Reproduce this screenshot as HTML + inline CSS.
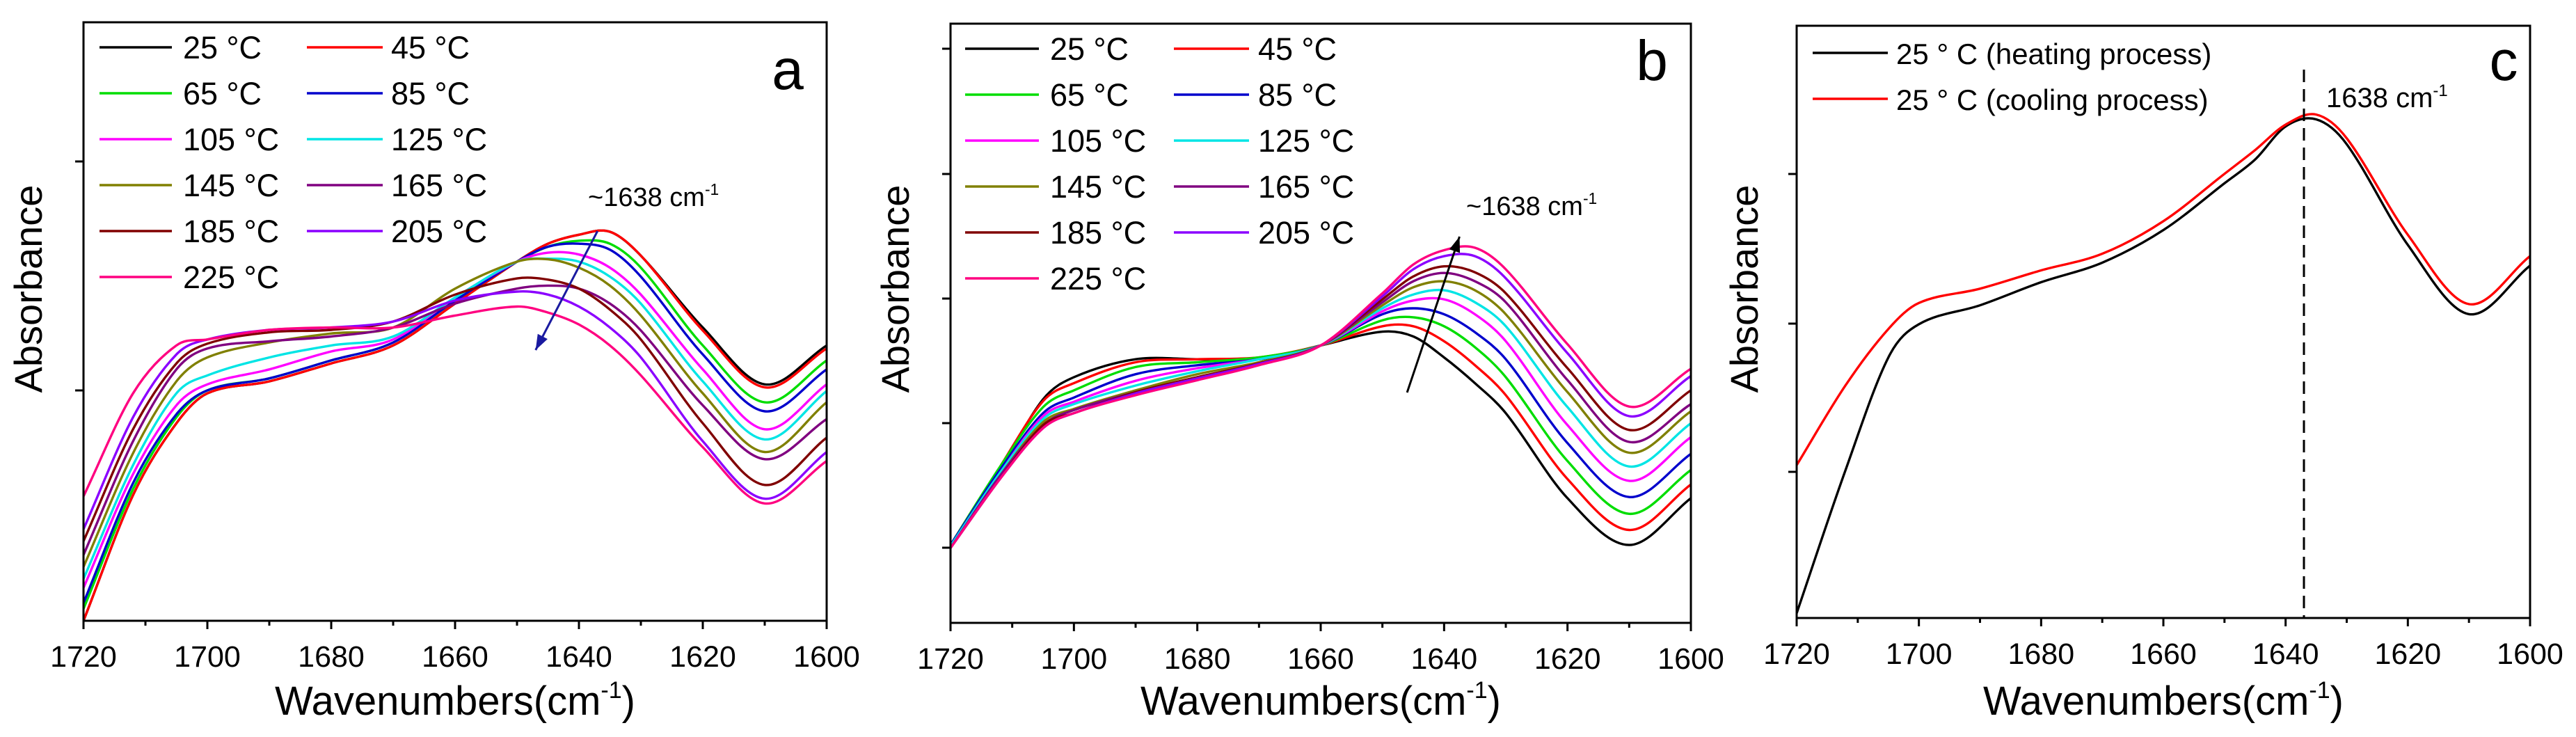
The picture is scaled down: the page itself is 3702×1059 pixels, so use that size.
<!DOCTYPE html>
<html><head><meta charset="utf-8"><style>
html,body{margin:0;padding:0;background:#fff}
svg{display:block}
text{font-family:"Liberation Sans",Arial,sans-serif;fill:#000}
</style></head><body>
<svg id="chart" width="3702" height="1059" viewBox="0 0 3702 1059" xmlns="http://www.w3.org/2000/svg"></svg>
<script>
const wavenumbers=[1720,1712,1705,1700,1690,1680,1670,1660,1650,1645,1640,1635,1630,1620,1610,1600];
const xTicks=[1720,1700,1680,1660,1640,1620,1600];
const tempLabels=["25 °C","45 °C","65 °C","85 °C","105 °C","125 °C","145 °C","165 °C","185 °C","205 °C","225 °C"];
const tempColors=["#000000","#ff0000","#00dd00","#0000cc","#ff00ff","#00e5e5","#808000","#800080","#800000","#8b00ff","#ff0080"];
const seriesA=[
[0,0.21,0.33,0.38,0.40,0.43,0.46,0.53,0.60,0.63,0.645,0.65,0.61,0.49,0.395,0.46],
[0,0.21,0.33,0.38,0.40,0.43,0.46,0.53,0.60,0.63,0.645,0.65,0.61,0.485,0.39,0.455],
[0.02,0.22,0.34,0.385,0.405,0.435,0.465,0.535,0.60,0.625,0.635,0.63,0.59,0.46,0.365,0.435],
[0.03,0.23,0.345,0.385,0.405,0.435,0.465,0.535,0.60,0.625,0.63,0.62,0.575,0.445,0.35,0.42],
[0.055,0.245,0.36,0.395,0.42,0.45,0.47,0.54,0.60,0.615,0.612,0.59,0.545,0.42,0.32,0.395],
[0.07,0.26,0.38,0.41,0.44,0.46,0.475,0.54,0.60,0.605,0.6,0.575,0.53,0.40,0.303,0.384],
[0.09,0.28,0.40,0.44,0.465,0.48,0.49,0.555,0.60,0.604,0.59,0.56,0.51,0.38,0.282,0.365],
[0.11,0.30,0.42,0.455,0.467,0.475,0.49,0.53,0.555,0.56,0.555,0.53,0.485,0.36,0.27,0.337],
[0.133,0.32,0.43,0.463,0.482,0.486,0.50,0.545,0.572,0.57,0.555,0.52,0.47,0.33,0.227,0.306],
[0.153,0.34,0.445,0.47,0.486,0.49,0.50,0.535,0.55,0.545,0.525,0.49,0.44,0.30,0.204,0.282],
[0.208,0.38,0.46,0.47,0.486,0.49,0.49,0.51,0.525,0.515,0.495,0.46,0.41,0.29,0.196,0.267]];
const seriesB=[
[0.125,0.255,0.373,0.41,0.44,0.44,0.44,0.463,0.486,0.478,0.443,0.40,0.35,0.208,0.13,0.208],
[0.13,0.26,0.37,0.40,0.435,0.44,0.443,0.463,0.495,0.495,0.47,0.43,0.38,0.24,0.155,0.231],
[0.13,0.26,0.36,0.388,0.427,0.435,0.443,0.463,0.505,0.51,0.495,0.46,0.41,0.27,0.182,0.255],
[0.13,0.255,0.35,0.376,0.415,0.43,0.44,0.463,0.515,0.525,0.515,0.485,0.44,0.30,0.21,0.282],
[0.128,0.25,0.345,0.369,0.404,0.425,0.44,0.463,0.52,0.538,0.54,0.515,0.47,0.33,0.237,0.31],
[0.128,0.25,0.34,0.365,0.396,0.42,0.44,0.463,0.525,0.548,0.555,0.535,0.495,0.36,0.261,0.333],
[0.125,0.245,0.335,0.357,0.388,0.415,0.435,0.463,0.53,0.56,0.57,0.555,0.515,0.385,0.284,0.353],
[0.125,0.245,0.33,0.355,0.385,0.41,0.433,0.463,0.535,0.57,0.584,0.57,0.535,0.405,0.302,0.365],
[0.125,0.24,0.33,0.35,0.385,0.41,0.433,0.463,0.54,0.578,0.595,0.585,0.55,0.425,0.322,0.388],
[0.125,0.24,0.325,0.35,0.383,0.408,0.432,0.463,0.545,0.59,0.612,0.612,0.575,0.45,0.345,0.412],
[0.125,0.24,0.325,0.35,0.38,0.405,0.43,0.463,0.55,0.598,0.622,0.626,0.59,0.465,0.361,0.424]];
const heatingC=[0.008,0.25,0.44,0.496,0.528,0.567,0.60,0.655,0.734,0.774,0.83,0.842,0.80,0.63,0.513,0.595];
const coolingC=[0.258,0.393,0.488,0.532,0.556,0.587,0.615,0.67,0.75,0.79,0.833,0.85,0.81,0.647,0.53,0.611];
const cLabels=["25 ° C (heating process)","25 ° C (cooling process)"];
const cColors=["#000000","#ff0000"];
const peakMarker=1637;

const NS="http://www.w3.org/2000/svg";
const svg=document.getElementById('chart');
function mk(tag,attrs,parent,txt){const e=document.createElementNS(NS,tag);for(const k in attrs)e.setAttribute(k,attrs[k]);if(txt!==undefined)e.textContent=txt;(parent||svg).appendChild(e);return e;}
function smooth(pts){
 const n=pts.length,m=[];
 for(let i=0;i<n;i++){const a=pts[Math.max(0,i-1)],b=pts[Math.min(n-1,i+1)];m.push((b[1]-a[1])/(b[0]-a[0]));}
 let d="M"+pts[0][0].toFixed(1)+","+pts[0][1].toFixed(1);
 for(let i=0;i<n-1;i++){const p1=pts[i],p2=pts[i+1],dx=(p2[0]-p1[0])/3;
  d+=" C"+(p1[0]+dx).toFixed(1)+","+(p1[1]+m[i]*dx).toFixed(1)+" "+(p2[0]-dx).toFixed(1)+","+(p2[1]-m[i+1]*dx).toFixed(1)+" "+p2[0].toFixed(1)+","+p2[1].toFixed(1);}
 return d;}

function panel(cfg){
 const g=mk('g',{});
 
 
 const L=cfg.l,R=cfg.r,T=cfg.t,B=cfg.b;
 const xs=v=>L+(1720-v)/120*(R-L);
 const ys=v=>B-v*(B-T);
 const clip='clip-'+cfg.name;
 const cp=mk('clipPath',{id:clip},g);mk('rect',{x:L,y:T,width:R-L,height:B-T},cp);
 const lines=mk('g',{'clip-path':'url(#'+clip+')'},g);
 
 
 cfg.series.forEach((s,i)=>{
  const p=mk('path',{d:smooth(wavenumbers.map((w,j)=>[xs(w),ys(s[j])])),fill:'none',stroke:cfg.colors[i],'stroke-width':3.4,'stroke-linejoin':'round'},lines);
  
  
 });
 const fr=mk('rect',{x:L,y:T,width:R-L,height:B-T,fill:'none',stroke:'#000','stroke-width':3},g);
 
 
 for(let v=1720;v>=1600;v-=10){const major=xTicks.includes(v);
  const t=mk('line',{x1:xs(v),x2:xs(v),y1:B,y2:B+(major?12:7),stroke:'#000','stroke-width':3},g);
  
  }
 xTicks.forEach(v=>{const t=mk('text',{x:xs(v),y:B+66,'font-size':43,'text-anchor':'middle'},g,String(v));
  
  });
 cfg.yticks.forEach(y=>{const t=mk('line',{x1:L-12,x2:L,y1:y,y2:y,stroke:'#000','stroke-width':3},g);
  
  });
 const xt=mk('text',{x:(L+R)/2,y:1027,'font-size':58,'text-anchor':'middle'},g);
 
 
 mk('tspan',{},xt,'Wavenumbers(cm');mk('tspan',{'font-size':34,dy:-24},xt,'-1');mk('tspan',{dy:24},xt,')');
 const yt=mk('text',{x:0,y:0,'font-size':56,'text-anchor':'middle',transform:'translate('+(cfg.ylx)+',415) rotate(-90)'},g,'Absorbance');
 
 
 const pl=mk('text',{x:cfg.letter[1],y:cfg.letter[2],'font-size':82,'text-anchor':'middle'},g,cfg.letter[0]);
 
 
 const lg=mk('g',{},g);
 
 
 cfg.labels.forEach((lab,i)=>{const col=cfg.legCols[i%cfg.legCols.length];const row=Math.floor(i/cfg.legCols.length);
  const y=cfg.legY+row*cfg.legDy;
  const e=mk('g',{},lg);
  
  
  mk('line',{x1:col[0],x2:col[1],y1:y,y2:y,stroke:cfg.colors[i],'stroke-width':3.4},e);
  mk('text',{x:col[2],y:y+16,'font-size':cfg.legFont},e,lab);});
 return {g,xs,ys};
}

const A=panel({name:'panel-a',l:120,r:1188,t:32,b:892,series:seriesA,colors:tempColors,labels:tempLabels,
 yticks:[232,561],ylx:60,letter:['a',1132,128],legCols:[[143,247,263],[441,550,562]],legY:68,legDy:66,legFont:45});
const B=panel({name:'panel-b',l:1366,r:2430,t:34,b:895,series:seriesB,colors:tempColors,labels:tempLabels,
 yticks:[70,250,429,608,787],ylx:1306,letter:['b',2374,115],legCols:[[1387,1493,1509],[1687,1795,1808]],legY:70,legDy:66,legFont:45});
const C=panel({name:'panel-c',l:2582,r:3636,t:37,b:888,series:[heatingC,coolingC],colors:cColors,labels:cLabels,
 yticks:[250,465,678],ylx:2526,letter:['c',3598,115],legCols:[[2605,2713,2725]],legY:76,legDy:66,legFont:42});

function arrow(x1,y1,x2,y2,col,name){
 const g=mk('g',{});
 
 
 mk('line',{x1,y1,x2,y2,stroke:col,'stroke-width':3},g);
 const a=Math.atan2(y2-y1,x2-x1),h=22,w=8;
 const bx=x2-h*Math.cos(a),by=y2-h*Math.sin(a);
 mk('polygon',{points:[x2,y2,bx+w*Math.sin(a),by-w*Math.cos(a),bx-w*Math.sin(a),by+w*Math.cos(a)].join(','),fill:col},g);
}
arrow(A.xs(1637),332,A.xs(1647),503,'#1a1aa0','arrow-panel-a');
arrow(B.xs(1646),564,B.xs(1637.5),340,'#000','arrow-panel-b');
function peakLabel(x,y,txt,name,fs){const t=mk('text',{x,y,'font-size':fs},svg);
 
 
 mk('tspan',{},t,txt);mk('tspan',{'font-size':fs*0.6,dy:-16},t,'-1');}
peakLabel(845,296,'~1638 cm','peak-label-a',38);
peakLabel(2107,309,'~1638 cm','peak-label-b',38);
const dl=mk('line',{x1:C.xs(peakMarker),x2:C.xs(peakMarker),y1:100,y2:888,stroke:'#000','stroke-width':3,'stroke-dasharray':'18,10'});


peakLabel(3343,154,'1638 cm','peak-label-c',40);
</script>
</body></html>
